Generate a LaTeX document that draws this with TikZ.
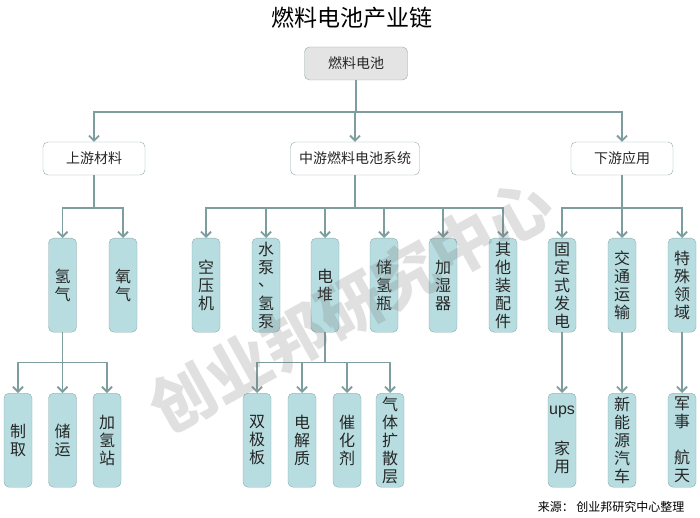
\documentclass[tikz,border=0pt]{standalone}
\usepackage{fontspec}
\setmainfont{Noto Sans CJK SC}
\newfontfamily\latinfont{Liberation Sans}
\usetikzlibrary{arrows.meta}
\definecolor{boxfill}{HTML}{B7DDE0}
\definecolor{boxline}{HTML}{8EAAAB}
\definecolor{linkcolor}{HTML}{7E9D9E}
\definecolor{rootfill}{HTML}{E4E4E4}
\definecolor{textgray}{HTML}{262626}
\begin{document}
\begin{tikzpicture}[
  x=1pt, y=-1pt,
  text=textgray,
  rootbox/.style={draw=boxline, fill=rootfill, rounded corners=5pt, minimum width=103pt, minimum height=33pt, font=\fontsize{14}{16}\selectfont},
  groupbox/.style={draw=boxline, fill=white, rounded corners=5pt, minimum height=33pt, font=\fontsize{14}{16}\selectfont},
  itembox/.style={draw=boxline, fill=boxfill, rounded corners=5pt, minimum width=28pt, minimum height=94pt, inner sep=0pt, anchor=north, align=center, font=\fontsize{16}{18}\selectfont},
  link/.style={draw=linkcolor, line width=1.8pt, -{Straight Barb[length=5pt,width=10pt]}},
]
\useasboundingbox (0,0) rectangle (700,518);

% Title and the chain's root.
\node[font=\fontsize{23}{25}\selectfont, text=black] (title) at (352,18) {燃料电池产业链};
\node[rootbox] (root) at (356,63.5) {燃料电池};

% Three segments of the chain.
\node[groupbox, minimum width=102pt] (up) at (94,158.5) {上游材料};
\node[groupbox, minimum width=129pt] (mid) at (355,158.5) {中游燃料电池系统};
\node[groupbox, minimum width=102pt] (down) at (622,158.5) {下游应用};

% Upstream: hydrogen and oxygen, then hydrogen's steps.
\node[itembox] (h2) at (62.5,238) {氢\\气};
\node[itembox] (o2) at (123,238) {氧\\气};
\node[itembox] (make) at (18,393) {制\\取};
\node[itembox] (store) at (62.5,393) {储\\运};
\node[itembox] (station) at (107,393) {加\\氢\\站};

% Midstream: system parts, then the stack's parts.
\node[itembox] (comp) at (206,238) {空\\压\\机};
\node[itembox] (pump) at (266,238) {水\\泵\\\raisebox{5pt}{、}\\氢\\泵};
\node[itembox] (stack) at (325,238) {电\\堆};
\node[itembox] (tank) at (384,238) {储\\氢\\瓶};
\node[itembox] (humid) at (443,238) {加\\湿\\器};
\node[itembox] (other) at (503,238) {其\\他\\装\\配\\件};
\node[itembox] (plate) at (257,393) {双\\极\\板};
\node[itembox] (elec) at (302,393) {电\\解\\质};
\node[itembox] (cat) at (347,393) {催\\化\\剂};
\node[itembox] (gdl) at (390,393) {气\\体\\扩\\散\\层};

% Downstream: fields of use, then examples.
\node[itembox] (power) at (562,238) {固\\定\\式\\发\\电};
\node[itembox] (traffic) at (622,238) {交\\通\\运\\输};
\node[itembox] (special) at (682,238) {特\\殊\\领\\域};
\node[itembox] (home) at (562,393) {\raisebox{4pt}{\latinfont ups}\\ \\家\\用};
\node[itembox] (car) at (622,393) {新\\能\\源\\汽\\车};
\node[itembox] (army) at (682,393) {军\\事\\ \\航\\天};

% Connectors, parent to child.
\foreach \child in {up, mid, down}
  \draw[link] (root.south) -- ++(0,32) -| (\child.north);
\foreach \child in {h2, o2}
  \draw[link] (up.south) -- ++(0,33) -| (\child.north);
\foreach \child in {comp, pump, stack, tank, humid, other}
  \draw[link] (mid.south) -- ++(0,33) -| (\child.north);
\foreach \child in {power, traffic, special}
  \draw[link] (down.south) -- ++(0,33) -| (\child.north);
\foreach \child in {make, store, station}
  \draw[link] (h2.south) -- ++(0,30) -| (\child.north);
\foreach \child in {plate, elec, cat, gdl}
  \draw[link] (stack.south) -- ++(0,30) -| (\child.north);
\draw[link] (power) -- (home);
\draw[link] (traffic) -- (car);
\draw[link] (special) -- (army);

% Source line and watermark.
\node[anchor=east, font=\fontsize{12}{14}\selectfont, text=black] (source) at (688,507) {来源： 创业邦研究中心整理};
\node[rotate=29, font=\bfseries\fontsize{64}{66}\selectfont, text=black!55, opacity=0.22] (mark) at (351,306) {创业邦研究中心};
\end{tikzpicture}
\end{document}
